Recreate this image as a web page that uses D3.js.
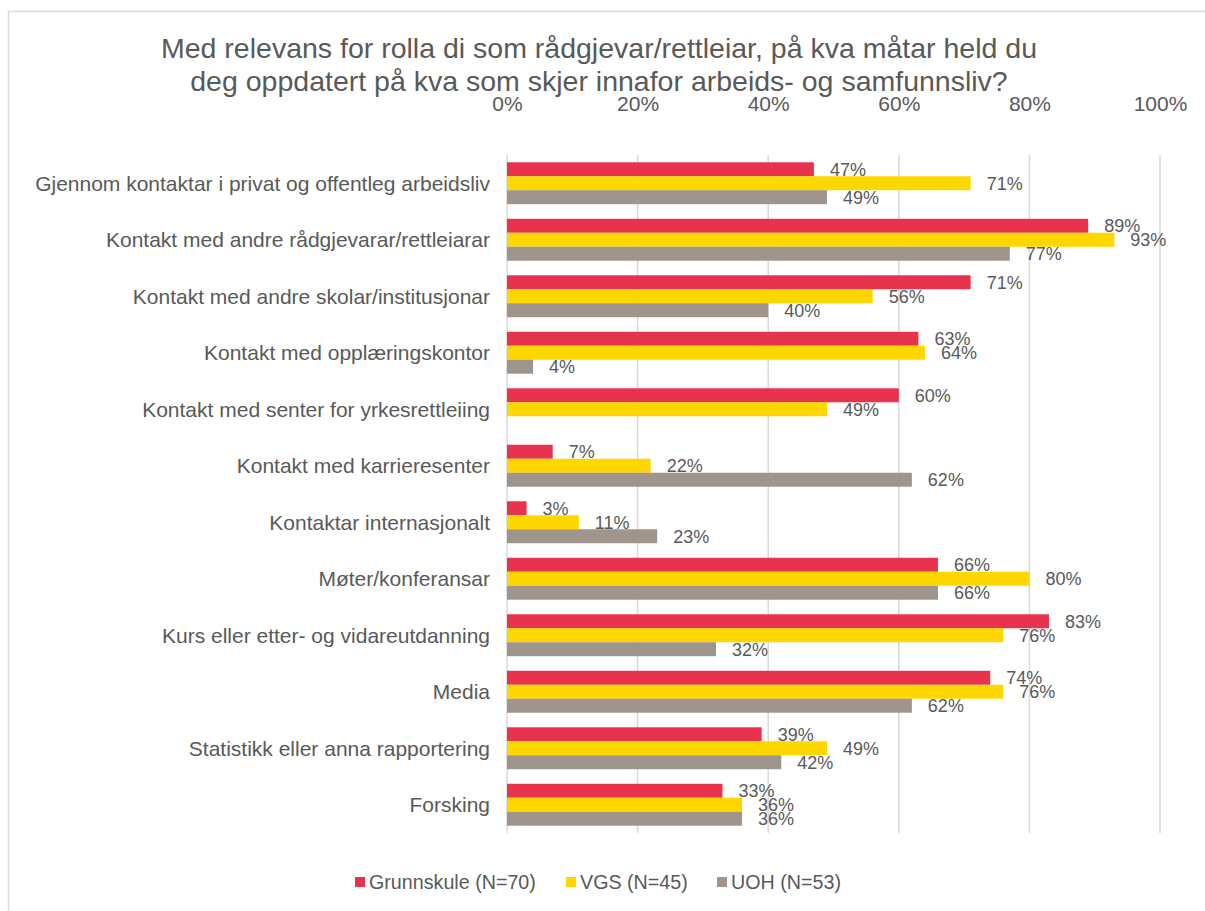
<!DOCTYPE html>
<html>
<head>
<meta charset="utf-8">
<script src="https://cdn.jsdelivr.net/npm/d3@7/dist/d3.min.js"></script>
<style>
  html, body { margin: 0; padding: 0; background: #ffffff; }
  svg { display: block; }
  text { font-family: "Liberation Sans", Arial, sans-serif; fill: #595959; }
</style>
</head>
<body>
<svg id="chart" width="1205" height="911"></svg>
<script>
const titleLines = [
  "Med relevans for rolla di som rådgjevar/rettleiar, på kva måtar held du",
  "deg oppdatert på kva som skjer innafor arbeids- og samfunnsliv?"
];
const categories = [
  "Gjennom kontaktar i privat og offentleg arbeidsliv",
  "Kontakt med andre rådgjevarar/rettleiarar",
  "Kontakt med andre skolar/institusjonar",
  "Kontakt med opplæringskontor",
  "Kontakt med senter for yrkesrettleiing",
  "Kontakt med karrieresenter",
  "Kontaktar internasjonalt",
  "Møter/konferansar",
  "Kurs eller etter- og vidareutdanning",
  "Media",
  "Statistikk eller anna rapportering",
  "Forsking"
];
const seriesNames = ["Grunnskule (N=70)", "VGS (N=45)", "UOH (N=53)"];
const seriesColors = ["#E8334F", "#FFD700", "#A0958C"];
const grunnskule = [47, 89, 71, 63, 60, 7, 3, 66, 83, 74, 39, 33];
const vgs =        [71, 93, 56, 64, 49, 22, 11, 80, 76, 76, 49, 36];
const uoh =        [49, 77, 40, 4, null, 62, 23, 66, 32, 62, 42, 36];
const tickValues = [0, 20, 40, 60, 80, 100];

const seriesValues = [grunnskule, vgs, uoh];

const svg = d3.select("#chart");

// outer border
svg.append("rect")
  .attr("x", 8.5).attr("y", 11.5)
  .attr("width", 1300).attr("height", 1000)
  .attr("fill", "none").attr("stroke", "#D9D9D9").attr("stroke-width", 1.5);

// title
svg.append("text")
  .attr("text-anchor", "middle")
  .style("font-size", "28.5px")
  .selectAll("tspan").data(titleLines).join("tspan")
  .attr("x", 599)
  .attr("y", (d, i) => 58 + i * 33)
  .text(d => d);

const x = d3.scaleLinear().domain([0, 100]).range([507, 1160]);
const y = d3.scaleBand().domain(categories).range([155, 833]).paddingInner(0).paddingOuter(0);
const ySub = d3.scaleBand().domain(seriesNames).range([0, y.bandwidth()]).paddingInner(0).paddingOuter(0.52);

// gridlines
svg.append("g").selectAll("line").data(tickValues).join("line")
  .attr("x1", d => x(d)).attr("x2", d => x(d))
  .attr("y1", 155).attr("y2", 833)
  .attr("stroke", "#D9D9D9").attr("stroke-width", 1.5);

// top axis labels
const xAxis = d3.axisTop(x).tickValues(tickValues).tickFormat(d => d + "%").tickSize(0).tickPadding(0);
const ax = svg.append("g").attr("transform", "translate(0,111)").call(xAxis);
ax.select(".domain").remove();
ax.selectAll("text").style("font-size", "21px").attr("fill", "#595959").attr("dy", 0)
  .style("font-family", "'Liberation Sans', Arial, sans-serif");

// category labels
const yAxis = d3.axisLeft(y).tickSize(0).tickPadding(0);
const ay = svg.append("g").attr("transform", "translate(490,0)").call(yAxis);
ay.select(".domain").remove();
ay.selectAll("text").style("font-size", "21px").attr("fill", "#595959")
  .style("font-family", "'Liberation Sans', Arial, sans-serif").attr("dy", "0.35em");

// bars
const rows = [];
categories.forEach((c, ci) => {
  seriesNames.forEach((s, si) => {
    const v = seriesValues[si][ci];
    if (v !== null) rows.push({ c, s, si, v });
  });
});

svg.append("g").selectAll("rect").data(rows).join("rect")
  .attr("x", x(0))
  .attr("y", d => y(d.c) + ySub(d.s))
  .attr("width", d => x(d.v) - x(0))
  .attr("height", ySub.bandwidth())
  .attr("fill", d => seriesColors[d.si]);

// data labels
svg.append("g").selectAll("text").data(rows).join("text")
  .attr("x", d => x(d.v) + 16)
  .attr("y", d => y(d.c) + ySub(d.s) + ySub.bandwidth() / 2)
  .attr("dy", "0.36em")
  .style("font-size", "18px")
  .text(d => d.v + "%");

// legend
const legendX = [355, 566, 717];
const lg = svg.append("g").selectAll("g").data(seriesNames).join("g")
  .attr("transform", (d, i) => `translate(${legendX[i]},877)`);
lg.append("rect").attr("width", 10).attr("height", 10).attr("fill", (d, i) => seriesColors[i]);
lg.append("text").attr("x", 14).attr("y", 12).style("font-size", "19.7px").text(d => d);
</script>
</body>
</html>
